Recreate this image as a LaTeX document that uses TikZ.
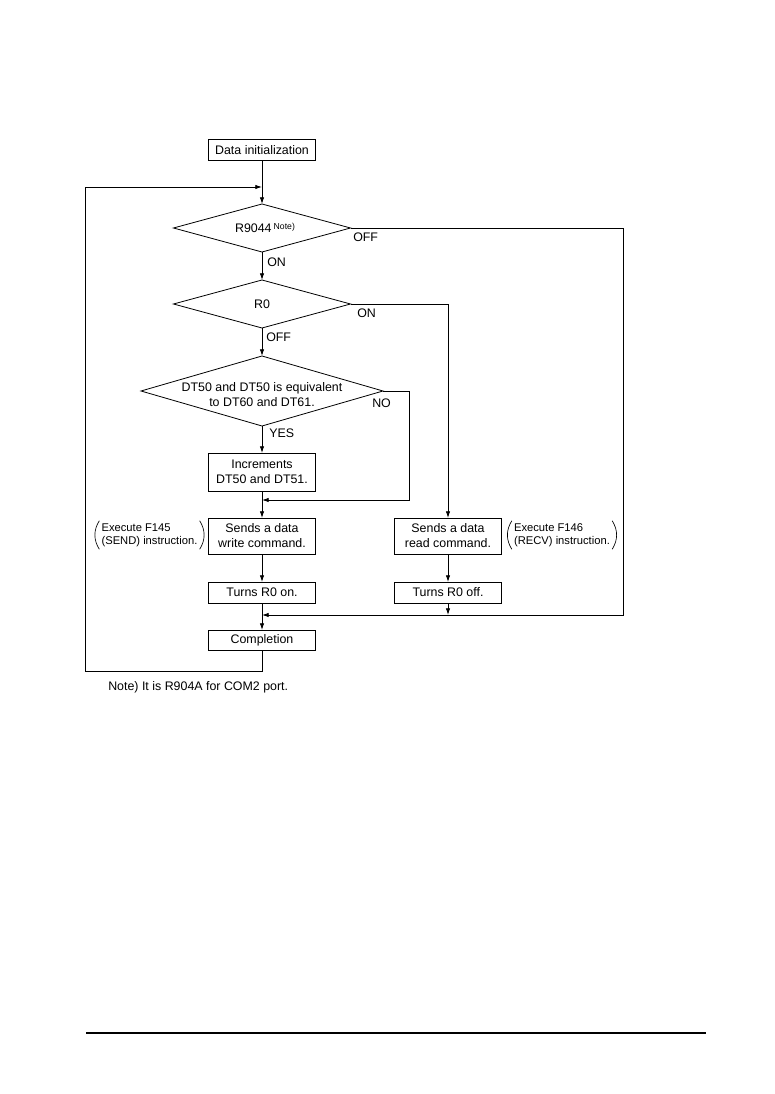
\documentclass[tikz,border=0pt]{standalone}
\usepackage{fontspec}
\setmainfont{Liberation Sans}
\usepackage{tikz}
\usetikzlibrary{arrows.meta,shapes.geometric,calc}

\begin{document}
\begin{tikzpicture}[x=0.75pt, y=-0.75pt,
  process/.style={draw, line width=0.6pt, minimum width=80.25pt, inner sep=1pt, outer sep=0pt, align=center, font=\fontsize{9.3}{11.25}\selectfont},
  decision/.style={draw, diamond, line width=0.6pt, inner sep=0pt, outer sep=0pt},
  txt/.style={inner sep=0pt, font=\fontsize{9.3}{11.25}\selectfont},
  remark/.style={inner xsep=1.5pt, inner ysep=0pt, minimum height=21pt, align=left, font=\fontsize{8.4}{9.75}\selectfont},
  paren/.style={line width=0.5pt},
  flow/.style={line width=0.6pt, -{Latex[length=5pt, width=3.3pt]}},
  rule/.style={line width=0.8pt}
]
  \useasboundingbox (0,0) rectangle (774,1094);

  \node[process, minimum height=15.75pt] (init) at (262,150) {Data initialization};
  \node[decision, minimum width=132.75pt, minimum height=36pt] (r9044) at (262,228) {};
  \node[txt] (r9044txt) at (265,228) {R9044\,\raisebox{2.5pt}{\fontsize{6.5}{7}\selectfont Note)}};
  \node[decision, minimum width=132.75pt, minimum height=36pt] (r0) at (262,304) {};
  \node[txt] (r0txt) at (262,304) {R0};
  \node[decision, minimum width=181.5pt, minimum height=52.5pt] (cmp) at (262,391) {};
  \node[txt, align=center] (cmptxt) at (262,395) {DT50 and DT50 is equivalent\\to DT60 and DT61.};
  \node[process, minimum height=28.5pt] (incr) at (262,472) {Increments\\DT50 and DT51.};
  \node[process, minimum height=27pt] (write) at (262,536) {Sends a data\\write command.};
  \node[process, minimum height=27pt] (read) at (448,536) {Sends a data\\read command.};
  \node[process, minimum height=15.75pt] (on) at (262,592.5) {Turns R0 on.};
  \node[process, minimum height=15.75pt] (off) at (448,592.5) {Turns R0 off.};
  \node[process, minimum height=15pt] (done) at (262,640) {Completion};

  \node[remark] (sendnote) at (149.5,535) {Execute F145\\(SEND) instruction.};
  \node[remark] (recvnote) at (562,535) {Execute F146\\(RECV) instruction.};
  \foreach \n in {sendnote,recvnote} {
    \draw[paren] (\n.north west) to[bend right=32] (\n.south west);
    \draw[paren] (\n.north east) to[bend left=32] (\n.south east);
  }

  \node[txt, anchor=west] (offa) at (353,237) {OFF};
  \node[txt, anchor=west] (ona) at (267,262) {ON};
  \node[txt, anchor=west] (onb) at (357,313) {ON};
  \node[txt, anchor=west] (offb) at (266,337) {OFF};
  \node[txt, anchor=west] (no) at (372,403) {NO};
  \node[txt, anchor=west] (yes) at (269,433) {YES};
  \node[txt, anchor=west] (note) at (108,687) {Note) It is R904A for COM2 port.};

  \coordinate (loopin) at (262,187);
  \coordinate (looptl) at (85,187);
  \coordinate (loopbl) at (85,671);
  \coordinate (nocorner) at (409,500);
  \coordinate (join) at (262,500);
  \coordinate (offcorner) at (623,615);
  \coordinate (merge) at (262,615);

  \draw[flow] (init.south) -- (r9044.north);
  \draw[flow] (r9044.south) -- (r0.north);
  \draw[flow] (r0.south) -- (cmp.north);
  \draw[flow] (cmp.south) -- (incr.north);
  \draw[flow] (incr.south) -- (write.north);
  \draw[flow] (cmp.east) -| (nocorner) -- (join);
  \draw[flow] (r0.east) -| (read.north);
  \draw[flow] (write.south) -- (on.north);
  \draw[flow] (read.south) -- (off.north);
  \draw[flow] (on.south) -- (done.north);
  \draw[flow] (off.south) -- (off.south |- merge);
  \draw[flow] (r9044.east) -| (offcorner) -- (merge);
  \draw[flow] (done.south) |- (loopbl) -- (looptl) -- (loopin);

  \draw[rule] (86,1033) -- (706,1033);
\end{tikzpicture}
\end{document}
